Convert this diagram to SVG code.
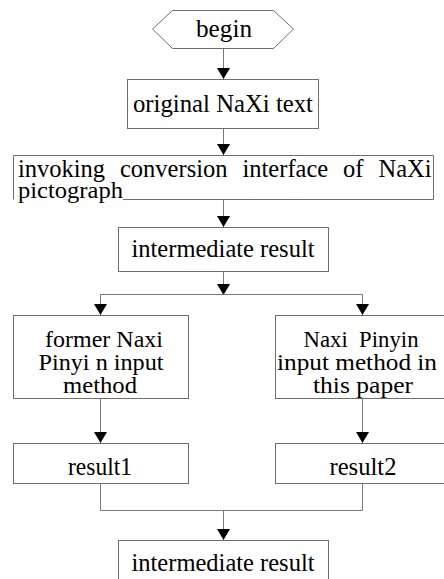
<svg xmlns="http://www.w3.org/2000/svg" width="444" height="579" viewBox="0 0 444 579">
  <style>
    .box { fill: #ffffff; stroke: #6e6e6e; stroke-width: 1; }
    .lbl { font-family: "Liberation Serif", "Times New Roman", serif; font-size: 24.5px; fill: #000000; }
    .tight { font-size: 23px; }
    .mid { text-anchor: middle; }
    .wire { fill: none; stroke: #7a7a7a; stroke-width: 1; }
  </style>
  <defs>
    <!-- filled triangle head; drawn along +x and turned with the path -->
    <marker id="arrow" markerWidth="11" markerHeight="13" refX="11" refY="6.5" orient="auto" markerUnits="userSpaceOnUse" viewBox="0 0 11 13">
      <path d="M0,0 L11,6.5 L0,13 Z" fill="#000000"/>
    </marker>
  </defs>
  <rect width="444" height="579" fill="#ffffff"/>

  <!-- connectors -->
  <g id="connectors">
    <path class="wire" d="M223.5,48 V79" marker-end="url(#arrow)"/>
    <path class="wire" d="M223.5,129 V155" marker-end="url(#arrow)"/>
    <path class="wire" d="M223.5,200 V227" marker-end="url(#arrow)"/>
    <path class="wire" d="M223.5,272 V295" marker-end="url(#arrow)"/>
    <path class="wire" d="M100.5,294.5 H362.5"/>
    <path class="wire" d="M100.5,294.5 V315" marker-end="url(#arrow)"/>
    <path class="wire" d="M362.5,294.5 V315" marker-end="url(#arrow)"/>
    <path class="wire" d="M100.5,399 V443" marker-end="url(#arrow)"/>
    <path class="wire" d="M362.5,399 V443" marker-end="url(#arrow)"/>
    <path class="wire" d="M100.5,484 V510.5 H362.5 V484"/>
    <path class="wire" d="M223.5,510.5 V540" marker-end="url(#arrow)"/>
  </g>

  <g id="begin">
    <polygon class="box" points="152.5,29 172.5,10.5 273.5,10.5 293.5,29 273.5,48.5 172.5,48.5"/>
    <text class="lbl mid" x="224" y="37" textLength="56" lengthAdjust="spacingAndGlyphs">begin</text>
  </g>

  <g id="original-text">
    <rect class="box" x="127.5" y="79.5" width="191" height="49"/>
    <text class="lbl" x="133" y="112" textLength="180" lengthAdjust="spacingAndGlyphs">original NaXi text</text>
  </g>

  <g id="invoke-interface">
    <!-- the bottom edge stops where the second text line runs over it -->
    <path class="box" d="M123,199.5 H433.5 V155.5 H13.5 V199.5"/>
    <text class="lbl" y="177">
      <tspan x="18">invoking</tspan>
      <tspan x="120">conversion</tspan>
      <tspan x="242.5">interface</tspan>
      <tspan x="343">of</tspan>
      <tspan x="378.5">NaXi</tspan>
    </text>
    <text class="lbl tight" x="18" y="198" textLength="105" lengthAdjust="spacingAndGlyphs">pictograph</text>
  </g>

  <g id="intermediate-1">
    <rect class="box" x="118.5" y="227.5" width="210" height="44"/>
    <text class="lbl mid" x="223" y="257" textLength="183" lengthAdjust="spacingAndGlyphs">intermediate result</text>
  </g>

  <g id="former-method">
    <rect class="box" x="13.5" y="315.5" width="175" height="83"/>
    <text class="lbl tight mid" x="104" y="347" textLength="118" lengthAdjust="spacingAndGlyphs">former Naxi</text>
    <text class="lbl tight mid" x="101" y="370" textLength="125" lengthAdjust="spacingAndGlyphs">Pinyi n input</text>
    <text class="lbl tight mid" x="100" y="393" textLength="74" lengthAdjust="spacingAndGlyphs">method</text>
  </g>

  <g id="paper-method">
    <rect class="box" x="275.5" y="315.5" width="176" height="83"/>
    <text class="lbl tight mid" x="361" y="347" textLength="115" lengthAdjust="spacingAndGlyphs" xml:space="preserve">Naxi  Pinyin</text>
    <text class="lbl tight mid" x="357" y="370" textLength="160" lengthAdjust="spacingAndGlyphs">input method in</text>
    <text class="lbl tight mid" x="363" y="393" textLength="100" lengthAdjust="spacingAndGlyphs">this paper</text>
  </g>

  <g id="result1">
    <rect class="box" x="13.5" y="443.5" width="175" height="40"/>
    <text class="lbl mid" x="100" y="475" textLength="64" lengthAdjust="spacingAndGlyphs">result1</text>
  </g>

  <g id="result2">
    <rect class="box" x="275.5" y="443.5" width="176" height="40"/>
    <text class="lbl mid" x="363" y="475" textLength="67" lengthAdjust="spacingAndGlyphs">result2</text>
  </g>

  <g id="intermediate-2">
    <rect class="box" x="118.5" y="540.5" width="210" height="60"/>
    <text class="lbl mid" x="223" y="571" textLength="183" lengthAdjust="spacingAndGlyphs">intermediate result</text>
  </g>
</svg>
